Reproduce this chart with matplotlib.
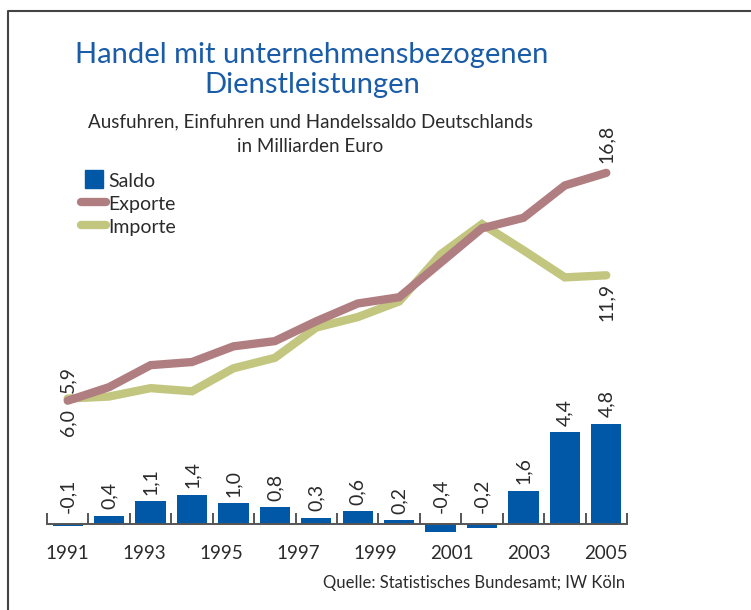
import numpy as np
import matplotlib
matplotlib.use("Agg")
import matplotlib.pyplot as plt
from matplotlib.lines import Line2D

# data (Mrd. Euro)
years_lbl = ["1991", "1993", "1995", "1997", "1999", "2001", "2003", "2005"]
saldo = [-0.1, 0.4, 1.1, 1.4, 1.0, 0.8, 0.3, 0.6, 0.2, -0.4, -0.2, 1.6, 4.4, 4.8]
exporte = [5.9, 6.55, 7.6, 7.75, 8.5, 8.75, 9.7, 10.55, 10.85, 12.5, 14.15, 14.65, 16.2, 16.8]
importe = [6.0, 6.1, 6.5, 6.35, 7.45, 7.95, 9.4, 9.9, 10.65, 12.9, 14.35, 13.1, 11.8, 11.9]

BLUE = "#0058a6"
MAUVE = "#b07e80"
OLIVE = "#c2c67f"
TXT = "#2b2b2b"

plt.rcParams["font.family"] = ["Lato", "DejaVu Sans"]

W, H = 751, 610
fig = plt.figure(figsize=(W / 100, H / 100), dpi=100)

# axes placed in pixel terms
ax_l, ax_r, ax_t, ax_b = 47, 627, 150, 545
ax = fig.add_axes([ax_l / W, 1 - ax_b / H, (ax_r - ax_l) / W, (ax_b - ax_t) / H])
ppu = 20.9
base = 524
ax.set_xlim(-0.5, 13.5)
ax.set_ylim(-(ax_b - base) / ppu, (base - ax_t) / ppu)

x = np.arange(len(saldo))
ax.bar(x, saldo, width=0.73, color=BLUE, zorder=2)
imp_line, = ax.plot(x, importe, color=OLIVE, lw=6, solid_capstyle="round",
                    solid_joinstyle="miter", zorder=3)
exp_line, = ax.plot(x, exporte, color=MAUVE, lw=6, solid_capstyle="round",
                    solid_joinstyle="miter", zorder=4)

def fmt(v):
    return f"{v:.1f}".replace(".", ",")

for xi, v in zip(x, saldo):
    y = v + 0.3 if v > 0 else 0.55
    ax.text(xi, y, fmt(v), rotation=90, ha="center", va="bottom", fontsize=14, color=TXT)

# end labels on the lines
ax.text(x[0], exporte[0] + 0.35, fmt(exporte[0]), rotation=90, ha="center", va="bottom",
        fontsize=14, color=TXT)
ax.text(x[0], importe[0] - 0.5, fmt(importe[0]), rotation=90, ha="center", va="top",
        fontsize=14, color=TXT)
ax.text(x[-1], exporte[-1] + 0.45, fmt(exporte[-1]), rotation=90, ha="center", va="bottom",
        fontsize=14, color=TXT)
ax.text(x[-1], importe[-1] - 0.35, fmt(importe[-1]), rotation=90, ha="center", va="top",
        fontsize=14, color=TXT)

# axis: baseline at zero with small upward ticks between bars
for s in ["top", "right", "left"]:
    ax.spines[s].set_visible(False)
ax.spines["bottom"].set_position(("data", 0))
ax.spines["bottom"].set_color("#555555")
ax.spines["bottom"].set_linewidth(1.4)
ax.set_yticks([])
ax.set_xticks(np.arange(-0.5, 14, 1.0))
ax.tick_params(axis="x", which="major", direction="in", length=8, width=1.4,
               color="#555555", labelbottom=False)
ax.set_xticks(np.linspace(0, 13, len(years_lbl)), minor=True)
ax.set_xticklabels(years_lbl, minor=True)
ax.tick_params(axis="x", which="minor", length=0, pad=15, labelsize=13.5, labelcolor=TXT)

# legend (square marker for the bars)
saldo_h = Line2D([], [], ls="", marker="s", markersize=13, color=BLUE)
leg = ax.legend([saldo_h, exp_line, imp_line], ["Saldo", "Exporte", "Importe"],
                loc="upper left", bbox_to_anchor=(81 / W, 1 - 172 / H),
                bbox_transform=fig.transFigure, frameon=False, fontsize=14,
                handlelength=1.3, handleheight=0.9, handletextpad=0.1,
                labelspacing=0.27, borderaxespad=0, borderpad=0)
for t in leg.get_texts():
    t.set_color(TXT)

# titles
fig.text(312 / W, 1 - 63 / H, "Handel mit unternehmensbezogenen", ha="center", va="baseline",
         fontsize=21, color="#1a5ca8")
fig.text(312 / W, 1 - 93 / H, "Dienstleistungen", ha="center", va="baseline",
         fontsize=21, color="#1a5ca8")
fig.text(310 / W, 1 - 127 / H, "Ausfuhren, Einfuhren und Handelssaldo Deutschlands",
         ha="center", va="baseline", fontsize=13.5, color=TXT)
fig.text(310 / W, 1 - 152 / H, "in Milliarden Euro", ha="center", va="baseline",
         fontsize=13.5, color=TXT)
fig.text(625 / W, 1 - 588 / H, "Quelle: Statistisches Bundesamt; IW Köln",
         ha="right", va="baseline", fontsize=12, color=TXT)

# frame line
fig.add_artist(Line2D([8 / W, 8 / W, 1], [0, 1 - 11 / H, 1 - 11 / H],
                      transform=fig.transFigure, color="#444444", lw=1.5))

fig.savefig("out.png", dpi=100)
